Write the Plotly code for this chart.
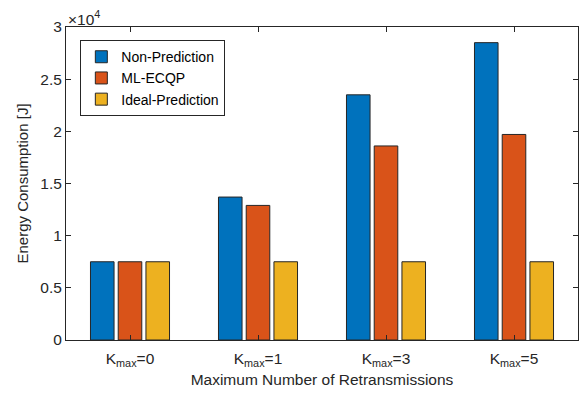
import plotly.graph_objects as go

categories = ["K<sub>max</sub>=0", "K<sub>max</sub>=1", "K<sub>max</sub>=3", "K<sub>max</sub>=5"]
non_prediction = [7500, 13700, 23500, 28500]
ml_ecqp = [7500, 12900, 18600, 19700]
ideal_prediction = [7500, 7500, 7500, 7500]
ytick_vals = [0, 5000, 10000, 15000, 20000, 25000, 30000]
ytick_text = ["0", "0.5", "1", "1.5", "2", "2.5", "3"]

series = [
    ("Non-Prediction", non_prediction, "#0072BD"),
    ("ML-ECQP", ml_ecqp, "#D95319"),
    ("Ideal-Prediction", ideal_prediction, "#EDB120"),
]

fig = go.Figure()
for name, vals, color in series:
    fig.add_trace(go.Bar(
        x=categories, y=vals, name=name,
        marker=dict(color=color, line=dict(color="#262626", width=1)),
    ))

font = "Liberation Sans, Arial, sans-serif"
fig.update_layout(
    width=583, height=399,
    margin=dict(l=66, r=5, t=27, b=59),
    paper_bgcolor="white", plot_bgcolor="white",
    barmode="group", bargap=0.35, bargroupgap=0.15,
    font=dict(family=font, size=14, color="#262626"),
    showlegend=True,
    legend=dict(
        x=0.028, y=0.958, xanchor="left", yanchor="top",
        bgcolor="white", bordercolor="#262626", borderwidth=1,
        font=dict(size=14, color="#000000"),
        tracegroupgap=0, itemwidth=30,
    ),
)
fig.update_xaxes(
    type="category", range=[-0.5, 3.5],
    showline=True, linecolor="#262626", linewidth=1, mirror="ticks",
    ticks="inside", ticklen=5, tickcolor="#262626",
    tickfont=dict(size=15.5, color="#262626"), ticklabelstandoff=4,
    title=dict(text="Maximum Number of Retransmissions", font=dict(size=15.5, color="#262626"), standoff=6),
    showgrid=False, zeroline=False,
)
fig.update_yaxes(
    range=[0, 30000],
    tickvals=ytick_vals, ticktext=ytick_text,
    showline=True, linecolor="#262626", linewidth=1, mirror="ticks",
    ticks="inside", ticklen=5, tickcolor="#262626",
    tickfont=dict(size=15.5, color="#262626"),
    title=dict(text="Energy Consumption [J]", font=dict(size=15, color="#262626"), standoff=8),
    showgrid=False, zeroline=False,
)
fig.add_annotation(
    text="\u00d710<sup>4</sup>", xref="paper", yref="paper", x=0.0, y=1.0,
    xanchor="left", yanchor="bottom", showarrow=False,
    font=dict(size=15.5, color="#262626"), yshift=-3,
)
fig.write_html("out.html")
